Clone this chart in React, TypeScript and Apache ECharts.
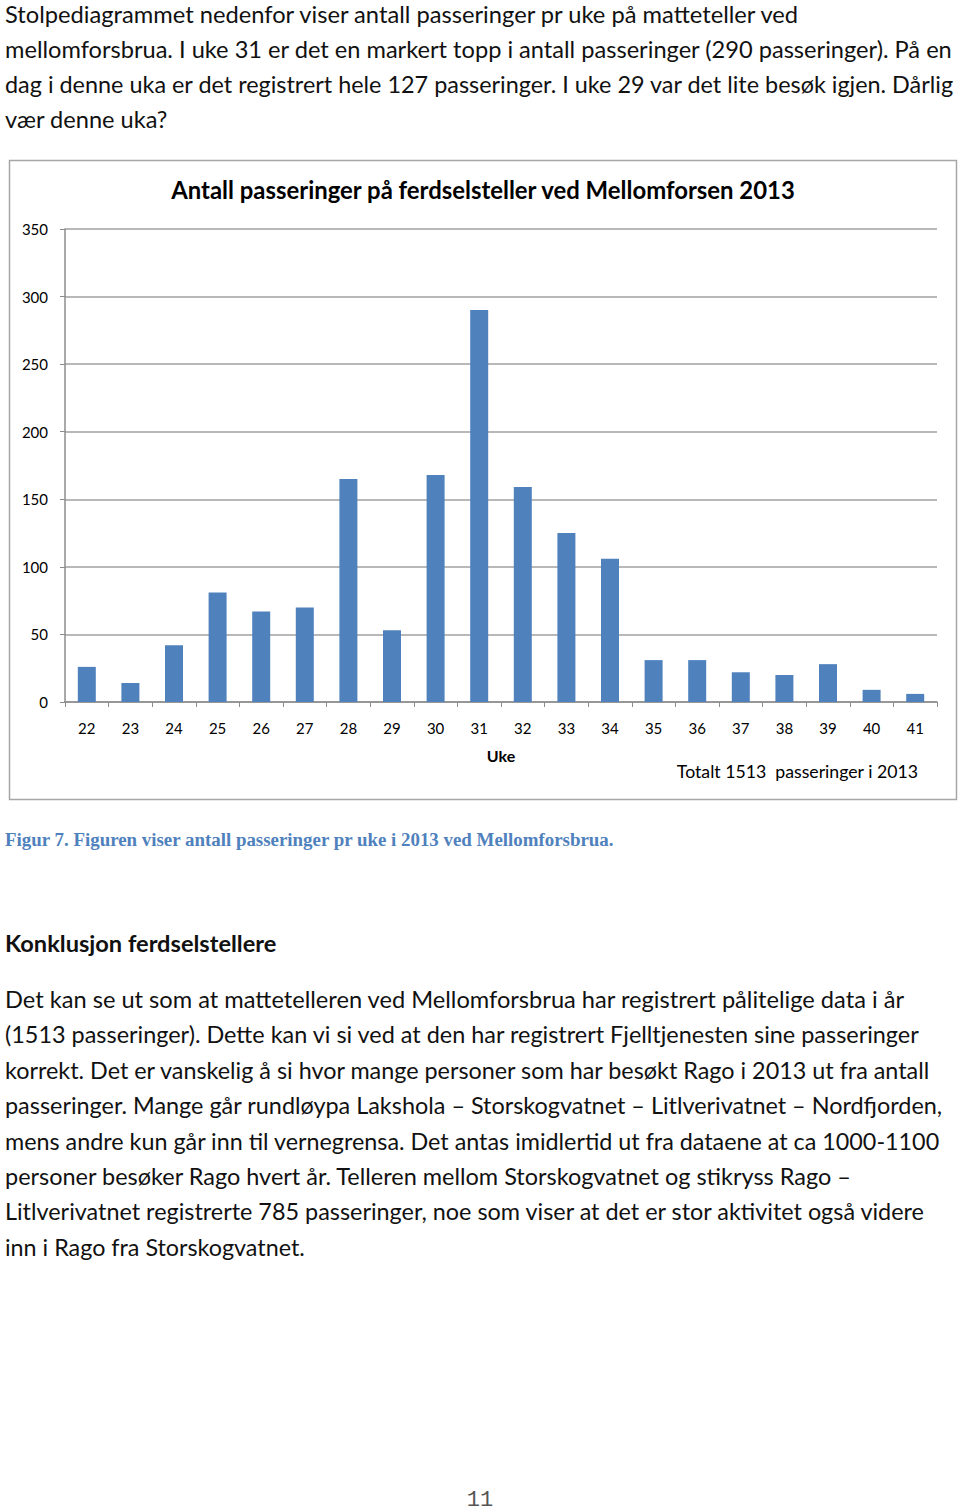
import React, { useEffect, useRef } from "react";
import * as echarts from "echarts";

const weeks = ["22","23","24","25","26","27","28","29","30","31","32","33","34","35","36","37","38","39","40","41"];
const passes = [26,14,42,81,67,70,165,53,168,290,159,125,106,31,31,22,20,28,9,6];
const yTicks = { min: 0, max: 350, interval: 50 };

const chartTitle = "Antall passeringer på ferdselsteller ved Mellomforsen 2013";
const xAxisName = "Uke";
const totalNote = "Totalt 1513  passeringer i 2013";

const introLines = [
  "Stolpediagrammet nedenfor viser antall passeringer pr uke på matteteller ved",
  "mellomforsbrua. I uke 31 er det en markert topp i antall passeringer (290 passeringer). På en",
  "dag i denne uka er det registrert hele 127 passeringer. I uke 29 var det lite besøk igjen. Dårlig",
  "vær denne uka?",
];
const introRightEdges = [802, 953, 955, 0];
const captionText = "Figur 7. Figuren viser antall passeringer pr uke i 2013 ved Mellomforsbrua.";
const headingText = "Konklusjon ferdselstellere";
const bodyLines = [
  "Det kan se ut som at mattetelleren ved Mellomforsbrua har registrert pålitelige data i år",
  "(1513 passeringer). Dette kan vi si ved at den har registrert Fjelltjenesten sine passeringer",
  "korrekt. Det er vanskelig å si hvor mange personer som har besøkt Rago i 2013 ut fra antall",
  "passeringer. Mange går rundløypa Lakshola – Storskogvatnet – Litlverivatnet – Nordfjorden,",
  "mens andre kun går inn til vernegrensa. Det antas imidlertid ut fra dataene at ca 1000-1100",
  "personer besøker Rago hvert år. Telleren mellom Storskogvatnet og stikryss Rago –",
  "Litlverivatnet registrerte 785 passeringer, noe som viser at det er stor aktivitet også videre",
  "inn i Rago fra Storskogvatnet.",
];
const bodyRightEdges = [906, 921, 932, 943, 941, 853, 927, 305];
const pageNumber = "11";

const FONT = "Lato, 'Open Sans', sans-serif";

function fitSize(text: string, right: number, base: number): number {
  if (!right) return base;
  try {
    const c = document.createElement("canvas").getContext("2d");
    if (!c) return base;
    c.font = `22px ${FONT}`;
    const w = c.measureText(text).width;
    if (!w) return base;
    const s = (22 * (right - 5)) / w;
    return Math.max(base - 0.8, Math.min(base + 0.6, s));
  } catch (e) {
    return base;
  }
}

export default function App() {
  const ref = useRef<HTMLDivElement>(null);
  useEffect(() => {
    if (!ref.current) return;
    const chart = echarts.init(ref.current, null, { renderer: "svg" });
    const graphics: any[] = [];
    graphics.push({
      type: "rect",
      shape: { x: 9.5, y: 160.5, width: 947, height: 639 },
      style: { fill: "none", stroke: "#a6a6a6", lineWidth: 1.5 },
      z: 0,
    });
    introLines.forEach((t, i) => {
      const fs = fitSize(t, introRightEdges[i], 23.6);
      graphics.push({
        type: "text", x: 5, y: 13.5 + i * 35.1,
        style: { text: t, font: `${fs}px ${FONT}`, fill: "#111", textVerticalAlign: "middle" },
      });
    });
    bodyLines.forEach((t, i) => {
      const fs = fitSize(t, bodyRightEdges[i], 23.6);
      graphics.push({
        type: "text", x: 5, y: 999 + i * 35.4,
        style: { text: t, font: `${fs}px ${FONT}`, fill: "#111", textVerticalAlign: "middle" },
      });
    });
    graphics.push({
      type: "text", x: 5, y: 943,
      style: { text: headingText, font: `bold 23.6px ${FONT}`, fill: "#111", textVerticalAlign: "middle" },
    });
    graphics.push({
      type: "text", x: 5, y: 839,
      style: { text: captionText, font: `bold 18.9px 'Liberation Serif', serif`, fill: "#4f81bd", textVerticalAlign: "middle" },
    });
    graphics.push({
      type: "text", x: 483, y: 189,
      style: { text: chartTitle, font: `bold 23.9px ${FONT}`, fill: "#000", textAlign: "center", textVerticalAlign: "middle" },
    });
    graphics.push({
      type: "text", x: 501, y: 755,
      style: { text: xAxisName, font: `bold 16px ${FONT}`, fill: "#000", textAlign: "center", textVerticalAlign: "middle" },
    });
    graphics.push({
      type: "text", x: 918, y: 771,
      style: { text: totalNote, font: `17.7px ${FONT}`, fill: "#000", textAlign: "right", textVerticalAlign: "middle" },
    });
    graphics.push({
      type: "text", x: 480, y: 1500,
      style: { text: pageNumber, font: `22px 'Liberation Mono', monospace`, fill: "#555", textAlign: "center", textVerticalAlign: "middle" },
    });

    chart.setOption({
      animation: false,
      backgroundColor: "#fff",
      grid: { left: 65, right: 23, top: 229, bottom: 810, containLabel: false },
      xAxis: {
        type: "category",
        data: weeks,
        boundaryGap: true,
        axisLine: { show: true, lineStyle: { color: "#8c8c8c", width: 1.5 } },
        axisTick: { show: true, alignWithLabel: false, length: 5, lineStyle: { color: "#8c8c8c" } },
        axisLabel: { color: "#000", fontFamily: FONT, fontSize: 15, margin: 18 },
      },
      yAxis: {
        type: "value",
        min: yTicks.min, max: yTicks.max, interval: yTicks.interval,
        axisLine: { show: true, lineStyle: { color: "#8c8c8c", width: 1.5 } },
        axisTick: { show: true, length: 5, lineStyle: { color: "#8c8c8c" } },
        axisLabel: { color: "#000", fontFamily: FONT, fontSize: 15, margin: 17 },
        splitLine: { show: true, lineStyle: { color: "#a0a0a0", width: 1.5 } },
      },
      series: [{
        type: "bar",
        data: passes,
        barWidth: 18,
        itemStyle: { color: "#4f81bd" },
      }],
      graphic: graphics,
    });
    return () => chart.dispose();
  }, []);
  return <div ref={ref} style={{ position: "absolute", left: 0, top: 0, width: 960, height: 1512 }} />;
}
